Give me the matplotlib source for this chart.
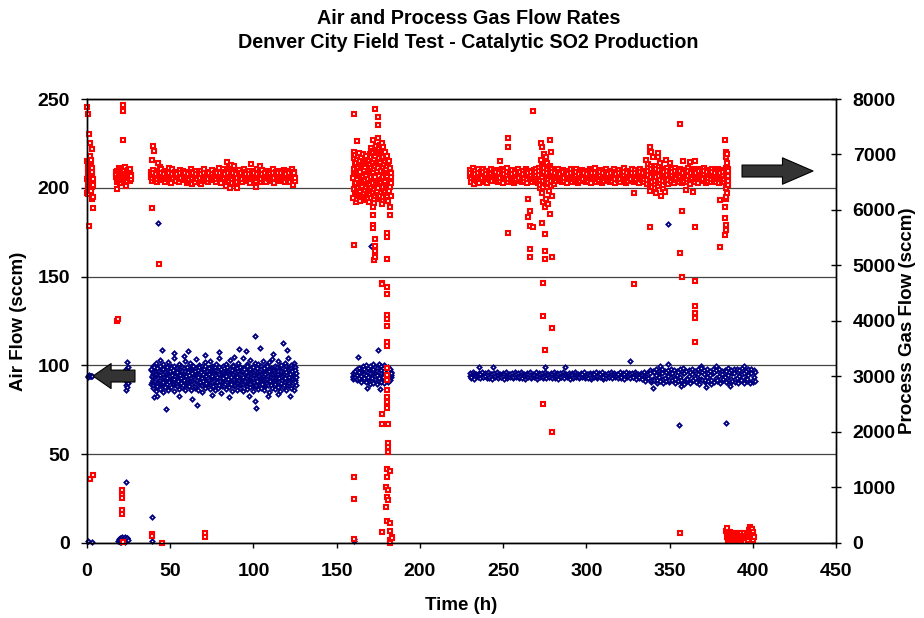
import numpy as np
import matplotlib
matplotlib.use('Agg')
import matplotlib.pyplot as plt

plt.rcParams['font.family'] = ['Liberation Sans', 'DejaVu Sans']
plt.rcParams['font.weight'] = 'bold'

# ---------------- Air flow (sccm), left axis ----------------
# (time h, flow) pairs for the small groups
air_start = [(0.3, 94.0), (0.8, 93.5), (1.2, 94.6), (1.7, 93.8), (2.1, 94.3),
             (2.6, 93.9), (3.2, 94.1)]
air_col = [(22.6, 93), (23.0, 96), (23.3, 91), (23.7, 89), (24.0, 97), (24.3, 94),
           (24.7, 99), (25.0, 92), (23.2, 86), (24.5, 95), (23.8, 102), (24.9, 90),
           (23.5, 98), (24.2, 88), (25.3, 96), (22.9, 94)]
air_low = [(0.5, 1.0), (2.8, 0.4), (18.5, 1.2), (19.2, 2.0), (20.0, 1.5), (20.7, 2.6),
           (21.3, 1.8), (22.0, 3.0), (22.6, 2.2), (23.3, 1.4), (24.0, 2.8), (24.6, 1.6),
           (19.8, 0.6), (21.8, 0.9), (23.0, 3.3), (23.4, 34.5), (39.0, 14.6), (39.0, 1.0),
           (160.5, 2.2), (160.2, 1.2), (19.0, 1.0), (19.6, 2.8), (20.3, 0.8), (21.0, 3.2),
           (21.6, 1.2), (22.3, 2.5), (23.0, 0.8), (23.7, 2.2), (24.3, 3.0), (20.4, 2.0),
           (22.8, 1.8), (21.5, 2.4)]
air_stray = [(42.5, 180.3), (170.5, 167.0), (349.3, 179.8), (355.8, 66.4), (384.0, 67.7)]

# first run, 38-125 h (two interleaved logging passes)
air_t_c = [38.5, 39.4, 40.3, 41.2, 42.2, 43.1, 44.0, 45.0, 45.9, 46.8,
           47.8, 48.7, 49.6, 50.6, 51.5, 52.4, 53.4, 54.3, 55.2, 56.2,
           57.1, 58.0, 59.0, 59.9, 60.8, 61.8, 62.7, 63.6, 64.6, 65.5,
           66.4, 67.4, 68.3, 69.2, 70.2, 71.1, 72.0, 73.0, 73.9, 74.8,
           75.8, 76.7, 77.6, 78.6, 79.5, 80.4, 81.4, 82.3, 83.2, 84.2,
           85.1, 86.0, 87.0, 87.9, 88.8, 89.8, 90.7, 91.6, 92.6, 93.5,
           94.4, 95.4, 96.3, 97.2, 98.2, 99.1, 100.0, 101.0, 101.9, 102.8,
           103.8, 104.7, 105.6, 106.6, 107.5, 108.4, 109.4, 110.3, 111.2, 112.2,
           113.1, 114.0, 115.0, 115.9, 116.8, 117.8, 118.7, 119.6, 120.6, 121.5,
           122.4, 123.4, 124.3, 125.2]
air_t_c_b = [38.9, 39.9, 40.8, 41.7, 42.7, 43.6, 44.5, 45.5, 46.4, 47.3,
             48.3, 49.2, 50.1, 51.1, 52.0, 52.9, 53.9, 54.8, 55.7, 56.7,
             57.6, 58.5, 59.5, 60.4, 61.3, 62.3, 63.2, 64.1, 65.1, 66.0,
             66.9, 67.9, 68.8, 69.7, 70.7, 71.6, 72.5, 73.5, 74.4, 75.3,
             76.3, 77.2, 78.1, 79.1, 80.0, 80.9, 81.9, 82.8, 83.7, 84.7,
             85.6, 86.5, 87.5, 88.4, 89.3, 90.3, 91.2, 92.1, 93.1, 94.0,
             94.9, 95.9, 96.8, 97.7, 98.7, 99.6, 100.5, 101.5, 102.4, 103.3,
             104.3, 105.2, 106.1, 107.1, 108.0, 108.9, 109.9, 110.8, 111.7, 112.7,
             113.6, 114.5, 115.5, 116.4, 117.3, 118.3, 119.2, 120.1, 121.1, 122.0,
             122.9, 123.9, 124.8, 125.6]
air_v_c1 = [97.5, 99.8, 96.2, 101.4, 98.1, 95.6, 103.2, 97.9, 100.5, 96.8,
            98.9, 102.1, 95.9, 99.4, 97.2, 104.0, 98.6, 96.4, 100.9, 97.7,
            99.1, 95.8, 102.6, 98.3, 96.9, 101.2, 97.4, 99.9, 96.1, 103.5,
            98.0, 100.3, 96.6, 99.6, 97.8, 101.8, 95.7, 98.8, 102.4, 97.1,
            99.3, 96.3, 100.7, 98.4, 103.9, 97.0, 99.7, 96.7, 101.0, 98.2,
            97.6, 102.9, 96.0, 100.1, 98.7, 95.5, 101.6, 99.2, 97.3, 104.4,
            98.5, 96.5, 100.6, 97.5, 103.0, 99.0, 96.2, 101.3, 98.1, 100.8,
            96.9, 99.5, 102.2, 97.8, 100.0, 96.4, 101.7, 98.6, 103.6, 97.2,
            99.8, 96.8, 102.7, 98.9, 100.4, 97.4, 101.1, 99.4, 104.2, 98.3,
            100.2, 97.6, 101.5, 99.0]
air_v_c2 = [93.2, 91.8, 95.4, 92.6, 94.8, 90.9, 96.1, 93.7, 92.1, 95.0,
            94.3, 91.5, 96.6, 93.0, 92.4, 95.7, 90.6, 94.1, 93.5, 96.3,
            91.9, 94.7, 92.8, 95.9, 93.3, 91.2, 96.8, 92.3, 94.5, 93.9,
            95.2, 92.0, 94.0, 91.4, 96.4, 93.6, 92.7, 95.5, 91.0, 94.4,
            93.1, 96.0, 92.5, 94.9, 91.7, 95.3, 93.8, 90.8, 94.6, 92.2,
            95.8, 93.4, 91.6, 96.5, 92.9, 94.2, 91.1, 95.1, 93.0, 96.7,
            92.4, 94.8, 91.3, 95.6, 93.2, 92.0, 96.2, 94.3, 91.8, 95.0,
            93.7, 91.5, 96.9, 92.6, 94.0, 95.7, 90.7, 93.5, 94.9, 92.1,
            95.4, 93.1, 91.9, 96.3, 94.6, 92.8, 95.2, 91.2, 93.9, 96.0,
            94.2, 92.5, 95.8, 93.4]
air_v_c3 = [89.4, 87.1, 90.5, 85.8, 88.6, 91.2, 86.7, 89.9, 84.9, 88.1,
            90.8, 86.2, 89.0, 87.6, 91.6, 85.4, 88.9, 90.1, 86.9, 89.5,
            87.8, 91.0, 85.9, 89.2, 88.3, 90.6, 86.4, 91.4, 87.3, 89.7,
            86.0, 90.3, 88.7, 85.1, 89.8, 87.0, 91.8, 88.0, 86.6, 90.0,
            88.5, 86.3, 90.9, 87.4, 89.1, 84.6, 91.1, 88.2, 86.8, 90.4,
            87.7, 89.6, 85.6, 91.5, 88.8, 86.1, 90.2, 87.2, 89.3, 85.3,
            90.7, 88.4, 86.5, 89.7, 87.9, 91.3, 85.7, 88.6, 90.5, 86.9,
            89.0, 87.5, 91.7, 86.3, 88.9, 90.1, 85.2, 89.4, 87.1, 91.0,
            86.7, 90.6, 88.1, 85.5, 89.9, 87.6, 91.9, 86.0, 88.7, 90.3,
            87.3, 89.2, 86.4, 90.8]
air_v_c4 = [93.8, 94.9, 92.6, 95.3, 93.1, 94.4, 92.9, 95.0, 93.6, 94.1,
            92.7, 95.4, 93.9, 94.6, 92.4, 94.0, 95.2, 93.3, 94.8, 92.8,
            95.1, 93.5, 94.3, 92.5, 94.7, 93.0, 95.5, 93.7, 92.6, 94.5,
            93.2, 94.9, 92.9, 95.0, 93.4, 94.2, 92.7, 95.3, 93.8, 94.0,
            92.5, 94.6, 93.6, 95.2, 92.8, 94.4, 93.1, 95.4, 93.9, 92.6,
            94.8, 93.3, 95.1, 92.4, 94.1, 93.7, 95.0, 92.9, 94.5, 93.2,
            95.3, 92.7, 94.3, 93.5, 95.5, 92.8, 94.7, 93.0, 95.2, 94.0,
            92.6, 94.9, 93.8, 95.1, 92.5, 94.2, 93.4, 95.4, 92.9, 94.6,
            93.1, 95.0, 92.7, 94.4, 93.6, 95.3, 92.8, 94.8, 93.3, 95.2,
            92.4, 94.1, 93.9, 95.5]
air_v_c5 = [97.9, 96.4, 99.2, 97.1, 98.6, 96.8, 99.7, 97.4, 98.1, 96.2,
            99.0, 97.6, 96.9, 98.8, 97.2, 99.5, 96.5, 98.3, 97.8, 99.9,
            96.7, 98.5, 97.0, 99.3, 96.3, 98.0, 97.5, 99.6, 96.6, 98.7,
            97.3, 99.1, 96.1, 98.2, 97.7, 99.8, 96.8, 98.4, 97.1, 99.4,
            96.4, 98.9, 97.6, 96.9, 99.2, 97.9, 96.2, 98.6, 97.4, 99.0,
            96.6, 98.1, 97.2, 99.7, 96.3, 98.8, 97.0, 99.3, 96.7, 98.3,
            97.8, 96.5, 99.5, 97.3, 98.0, 96.9, 99.1, 97.5, 98.7, 96.1,
            99.6, 97.7, 96.4, 98.5, 97.0, 99.9, 96.8, 98.2, 97.4, 99.2,
            96.3, 98.9, 97.1, 99.4, 96.6, 98.4, 97.9, 96.2, 99.0, 97.6,
            98.6, 96.7, 99.8, 97.2]
air_v_c6 = [90.6, 89.1, 91.4, 88.7, 90.0, 91.8, 89.5, 90.9, 88.3, 91.1,
            89.8, 90.4, 88.9, 91.6, 89.3, 90.7, 88.5, 91.2, 89.9, 90.2,
            88.8, 91.5, 89.4, 90.8, 88.4, 91.0, 89.7, 90.3, 88.6, 91.7,
            89.2, 90.5, 88.9, 91.3, 89.6, 90.1, 88.2, 91.9, 89.0, 90.6,
            91.4, 88.7, 90.9, 89.5, 91.1, 88.3, 90.4, 89.8, 91.6, 88.9,
            90.7, 89.3, 91.2, 88.5, 90.2, 89.9, 91.5, 88.8, 90.8, 89.4,
            91.0, 88.4, 90.3, 89.7, 91.7, 88.6, 90.5, 89.2, 91.3, 88.9,
            90.1, 89.6, 91.9, 88.2, 90.6, 89.0, 91.4, 88.7, 90.9, 89.5,
            91.1, 88.3, 90.4, 89.8, 91.6, 88.9, 90.7, 89.3, 91.2, 88.5,
            90.2, 89.9, 91.5, 88.8]
air_out_c = [(40.0, 82.0), (47.5, 75.5), (63.0, 81.0), (66.0, 77.7), (101.0, 116.5),
             (101.0, 80.0), (101.3, 76.0), (45.0, 108.5), (52.0, 107.0), (58.5, 105.5),
             (71.0, 106.0), (79.0, 107.5), (88.0, 105.0), (95.5, 108.0), (104.0, 110.0),
             (112.0, 106.5), (117.5, 112.5), (120.0, 108.5), (42.0, 83.0), (55.0, 82.5),
             (75.0, 83.5), (85.0, 82.0), (97.5, 83.0), (108.5, 82.5), (115.0, 84.0),
             (122.0, 83.0), (60.5, 108.0), (91.0, 109.0)]

# second run, 160-183 h
air_t_d = [160.0, 161.1, 162.2, 163.3, 164.4, 165.5, 166.6, 167.7, 168.8, 169.9,
           171.0, 172.1, 173.2, 174.3, 175.4, 176.5, 177.6, 178.7, 179.8, 180.9,
           182.0, 182.8]
air_v_d1 = [95.5, 96.8, 97.9, 98.6, 97.2, 99.4, 98.0, 100.2, 98.8, 99.6,
            97.6, 100.5, 99.1, 98.3, 100.8, 99.7, 98.5, 100.0, 97.9, 99.3,
            98.2, 96.4]
air_v_d2 = [92.4, 93.6, 91.8, 93.1, 90.9, 92.7, 91.5, 90.4, 92.2, 89.8,
            91.0, 90.1, 92.5, 89.6, 91.4, 90.7, 92.9, 89.9, 91.7, 90.5,
            92.0, 93.3]
air_v_d3 = [94.0, 95.1, 94.6, 95.8, 94.3, 96.0, 95.2, 94.8, 96.3, 95.5,
            94.1, 96.6, 95.0, 94.5, 96.1, 95.7, 94.2, 96.4, 95.3, 94.9,
            95.9, 94.7]
air_v_d4 = [93.2, 97.0, 92.6, 96.5, 93.8, 97.6, 92.9, 96.9, 93.5, 97.3,
            92.7, 97.8, 93.9, 96.7, 92.8, 97.4, 93.4, 97.1, 92.5, 96.8,
            93.7, 95.6]
air_out_d = [(163.0, 105.0), (174.7, 108.7), (176.0, 86.5), (168.0, 87.5)]

# third run, 230-401 h
air_t_e = [230.0, 231.8, 233.7, 235.4, 237.2, 239.1, 240.8, 242.6, 244.5, 246.2,
           248.0, 249.9, 251.6, 253.4, 255.3, 257.0, 258.8, 260.7, 262.4, 264.2,
           266.1, 267.8, 269.6, 271.5, 273.2, 275.0, 276.9, 278.6, 280.4, 282.3,
           284.0, 285.8, 287.7, 289.4, 291.2, 293.1, 294.8, 296.6, 298.5, 300.2,
           302.0, 303.9, 305.6, 307.4, 309.3, 311.0, 312.8, 314.7, 316.4, 318.2,
           320.1, 321.8, 323.6, 325.5, 327.2, 329.0, 330.9, 332.6, 334.4, 336.3,
           338.0, 339.8, 341.7, 343.4, 345.2, 347.1, 348.8, 350.6, 352.5, 354.2,
           356.0, 357.9, 359.6, 361.4, 363.3, 365.0, 366.8, 368.7, 370.4, 372.2,
           374.1, 375.8, 377.6, 379.5, 381.2, 383.0, 384.9, 386.6, 388.4, 390.3,
           392.0, 393.8, 395.7, 397.4, 399.2, 400.6]
air_t_e_b = [230.9, 232.7, 234.6, 236.3, 238.1, 240.0, 241.7, 243.5, 245.4, 247.1,
             248.9, 250.8, 252.5, 254.3, 256.2, 257.9, 259.7, 261.6, 263.3, 265.1,
             267.0, 268.7, 270.5, 272.4, 274.1, 275.9, 277.8, 279.5, 281.3, 283.2,
             284.9, 286.7, 288.6, 290.3, 292.1, 294.0, 295.7, 297.5, 299.4, 301.1,
             302.9, 304.8, 306.5, 308.3, 310.2, 311.9, 313.7, 315.6, 317.3, 319.1,
             321.0, 322.7, 324.5, 326.4, 328.1, 329.9, 331.8, 333.5, 335.3, 337.2,
             338.9, 340.7, 342.6, 344.3, 346.1, 348.0, 349.7, 351.5, 353.4, 355.1,
             356.9, 358.8, 360.5, 362.3, 364.2, 365.9, 367.7, 369.6, 371.3, 373.1,
             375.0, 376.7, 378.5, 380.4, 382.1, 383.9, 385.8, 387.5, 389.3, 391.2,
             392.9, 394.7, 396.6, 398.3, 400.1, 401.2]
air_v_e1 = [95.6, 96.1, 95.3, 95.9, 96.4, 95.5, 96.0, 95.2, 95.8, 96.3,
            95.4, 95.9, 96.2, 95.1, 95.7, 96.0, 95.5, 96.3, 95.2, 95.8,
            96.1, 95.4, 96.5, 95.6, 95.9, 96.2, 95.3, 95.7, 96.0, 95.5,
            95.8, 96.3, 95.2, 95.9, 95.6, 96.1, 95.4, 95.7, 96.2, 95.3,
            95.9, 95.5, 96.0, 95.7, 96.4, 95.2, 95.8, 96.1, 95.6, 95.3,
            96.0, 95.7, 96.3, 95.5, 95.9, 96.2, 95.4, 95.8, 96.1, 95.6,
            97.4, 96.8, 97.9, 97.1, 98.2, 96.9, 97.6, 98.0, 97.3, 96.7,
            97.8, 98.3, 97.0, 97.5, 98.1, 96.8, 97.7, 98.4, 97.2, 97.9,
            96.9, 98.0, 97.4, 98.2, 97.1, 97.6, 98.5, 97.3, 97.8, 98.1,
            97.5, 98.3, 97.0, 97.9, 98.2, 97.6]
air_v_e2 = [93.0, 92.6, 93.3, 92.8, 93.5, 92.7, 93.1, 92.5, 93.4, 92.9,
            93.2, 92.6, 93.0, 93.6, 92.8, 93.3, 92.7, 93.1, 92.5, 93.4,
            92.9, 93.2, 92.6, 93.5, 93.0, 92.8, 93.3, 92.7, 93.1, 92.4,
            93.4, 92.9, 93.2, 92.6, 93.0, 93.5, 92.8, 93.3, 92.7, 93.1,
            92.5, 93.4, 92.9, 93.2, 92.6, 93.0, 93.6, 92.8, 93.3, 92.7,
            93.1, 92.5, 93.4, 92.9, 93.2, 92.6, 93.0, 92.4, 91.0, 92.8,
            90.8, 91.6, 90.2, 91.3, 89.9, 91.1, 90.5, 91.8, 90.0, 91.4,
            90.6, 89.7, 91.2, 90.3, 91.7, 90.9, 89.8, 91.5, 90.4, 91.0,
            89.6, 90.7, 91.4, 90.1, 91.9, 90.5, 89.5, 91.2, 90.8, 90.2,
            91.6, 90.0, 91.1, 89.9, 90.6, 91.3]
air_v_e3 = [94.1, 94.4, 93.9, 94.6, 94.2, 93.8, 94.5, 94.0, 94.3, 94.7,
            94.0, 94.3, 94.6, 93.9, 94.2, 94.5, 94.1, 93.8, 94.4, 94.2,
            94.6, 94.0, 94.3, 94.5, 93.9, 94.2, 94.7, 94.1, 94.4, 93.8,
            94.3, 94.0, 94.6, 94.2, 94.5, 93.9, 94.1, 94.4, 94.0, 94.3,
            94.6, 94.1, 94.2, 94.5, 93.9, 94.4, 94.0, 94.3, 94.7, 94.2,
            94.1, 94.5, 93.9, 94.3, 94.0, 94.6, 94.2, 94.4, 94.1, 94.3,
            95.6, 92.4, 94.8, 93.2, 95.9, 92.7, 94.3, 95.2, 92.9, 94.6,
            93.4, 95.7, 92.6, 94.1, 95.4, 93.0, 94.9, 92.5, 95.1, 93.6,
            94.4, 95.8, 92.8, 94.0, 95.3, 93.3, 94.7, 92.6, 95.5, 93.1,
            94.2, 95.0, 92.9, 94.5, 95.6, 93.5]
air_v_e4 = [93.6, 94.9, 93.8, 95.1, 93.5, 95.0, 93.7, 95.2, 93.9, 94.8,
            93.6, 95.1, 93.8, 94.9, 93.5, 95.3, 93.7, 95.0, 93.9, 95.2,
            93.6, 94.8, 93.8, 95.1, 93.5, 94.9, 93.7, 95.3, 93.9, 95.0,
            93.6, 95.2, 93.8, 94.8, 93.5, 95.1, 93.7, 94.9, 93.9, 95.3,
            93.6, 95.0, 93.8, 95.2, 93.5, 94.8, 93.7, 95.1, 93.9, 94.9,
            93.6, 95.3, 93.8, 95.0, 93.5, 95.2, 93.7, 94.8, 93.9, 95.1,
            92.0, 96.2, 91.6, 95.8, 92.3, 96.5, 91.8, 95.5, 92.1, 96.0,
            91.5, 95.7, 92.4, 96.3, 91.9, 95.6, 92.2, 96.4, 91.7, 95.9,
            92.0, 96.1, 91.6, 95.5, 92.3, 96.6, 91.8, 95.8, 92.1, 96.2,
            91.5, 95.7, 92.4, 96.0, 91.9, 96.3]
air_out_e = [(235.4, 99.0), (243.8, 99.0), (275.0, 99.3), (287.0, 99.0), (326.0, 102.5),
             (344.0, 99.5), (349.0, 100.5), (368.6, 99.5), (378.0, 99.8), (395.0, 99.6),
             (340.0, 87.0), (357.0, 88.5), (372.0, 87.8), (386.0, 88.2)]

# ---------------- Process gas flow (sccm), right axis ----------------
gas_t_a = [0.2, 0.3, 1.2, 1.8, 2.8, 1.8, 3.4, 1.2,
           0.1, 0.5, 0.9, 1.4, 2.0, 2.5, 3.0, 3.5,
           0.3, 0.7, 1.1, 1.6, 2.2, 2.7, 3.2,
           0.2, 0.6, 1.0, 1.5, 2.1, 2.6, 3.1, 3.6,
           0.4, 0.8, 1.3, 1.9, 2.4, 2.9]
gas_v_a = [7850, 7730, 7365, 7200, 7105, 6978, 6030, 5717,
           6880, 6750, 6620, 6500, 6820, 6710, 6560, 6450,
           6380, 6600, 6800, 6690, 6530, 6410, 6760,
           6300, 6480, 6860, 6580, 6350, 6650, 6470, 6240,
           6720, 6550, 6420, 6780, 6610, 6190]
gas_start2 = [(0.5, 6640), (1.0, 6520), (1.5, 6760), (2.0, 6430), (2.5, 6860), (3.0, 6680),
              (0.2, 6560), (0.8, 6290), (1.3, 6700), (1.7, 6580), (2.3, 6480), (2.6, 6900),
              (0.6, 6820), (1.9, 6360), (3.3, 6550), (0.9, 6460), (2.9, 6640)]
gas_t_b = [21.8, 21.8, 21.8, 18.2, 23.4, 18.2, 18.4,
           17.2, 17.9, 18.6, 19.3, 20.0, 20.7, 21.4, 22.1, 22.8, 23.5, 24.2, 24.9, 25.6, 26.3,
           17.5, 18.3, 19.0, 19.7, 20.4, 21.1, 21.8, 22.5, 23.2, 23.9, 24.6, 25.3, 26.0, 26.7]
gas_v_b = [7892, 7790, 7261, 6373, 6432, 3995, 4030,
           6600, 6700, 6520, 6650, 6740, 6560, 6690, 6620, 6780, 6540, 6660, 6710, 6590, 6630,
           6680, 6550, 6620, 6480, 6720, 6600, 6760, 6510, 6640, 6700, 6570, 6660, 6520, 6610]
gas_b2 = [(17.6, 6640), (18.0, 6580), (18.8, 6700), (19.5, 6560), (20.2, 6620), (20.9, 6680),
          (21.6, 6540), (22.3, 6700), (23.0, 6580), (23.7, 6640), (24.4, 6720), (25.1, 6620),
          (25.8, 6680), (26.5, 6560), (19.0, 6760), (22.0, 6500), (24.0, 6520), (26.0, 6740),
          (17.8, 6500), (20.5, 6480)]
gas_misc = [(39.9, 7153), (40.0, 7069), (38.9, 6901), (42.5, 6852), (38.9, 6030),
            (43.5, 5022)]
gas_low = [(1.8, 1150), (3.8, 1220), (20.8, 955), (20.8, 865), (20.9, 805), (20.8, 595),
           (20.9, 522), (21.5, 23), (21.8, 10), (38.9, 162), (38.9, 126), (44.9, 5),
           (70.9, 174), (70.9, 102), (160.5, 1184), (160.5, 787), (160.5, 66), (356.4, 174)]

# first run, 38-125 h (two interleaved logging passes)
gas_t_c = [38.2, 39.8, 41.4, 43.0, 44.6, 46.2, 47.8, 49.4, 51.0, 52.6,
           54.2, 55.8, 57.4, 59.0, 60.6, 62.2, 63.8, 65.4, 67.0, 68.6,
           70.2, 71.8, 73.4, 75.0, 76.6, 78.2, 79.8, 81.4, 83.0, 84.6,
           86.2, 87.8, 89.4, 91.0, 92.6, 94.2, 95.8, 97.4, 99.0, 100.6,
           102.2, 103.8, 105.4, 107.0, 108.6, 110.2, 111.8, 113.4, 115.0, 116.6,
           118.2, 119.8, 121.4, 123.0, 124.6]
gas_t_c_b = [39.0, 40.6, 42.2, 43.8, 45.4, 47.0, 48.6, 50.2, 51.8, 53.4,
             55.0, 56.6, 58.2, 59.8, 61.4, 63.0, 64.6, 66.2, 67.8, 69.4,
             71.0, 72.6, 74.2, 75.8, 77.4, 79.0, 80.6, 82.2, 83.8, 85.4,
             87.0, 88.6, 90.2, 91.8, 93.4, 95.0, 96.6, 98.2, 99.8, 101.4,
             103.0, 104.6, 106.2, 107.8, 109.4, 111.0, 112.6, 114.2, 115.8, 117.4,
             119.0, 120.6, 122.2, 123.8, 125.2]
gas_v_c1 = [6690, 6720, 6660, 6700, 6740, 6680, 6710, 6650, 6730, 6690,
            6670, 6720, 6700, 6660, 6690, 6740, 6680, 6710, 6650, 6700,
            6730, 6670, 6690, 6720, 6660, 6700, 6680, 6740, 6690, 6710,
            6760, 6700, 6680, 6720, 6660, 6740, 6690, 6710, 6670, 6700,
            6730, 6680, 6720, 6660, 6700, 6690, 6740, 6680, 6710, 6670,
            6720, 6690, 6700, 6730, 6680]
gas_v_c2 = [6520, 6560, 6500, 6540, 6580, 6510, 6550, 6490, 6570, 6530,
            6500, 6560, 6540, 6480, 6520, 6570, 6510, 6550, 6490, 6530,
            6560, 6500, 6540, 6580, 6510, 6550, 6490, 6570, 6530, 6520,
            6480, 6460, 6500, 6540, 6510, 6560, 6530, 6490, 6550, 6520,
            6570, 6500, 6540, 6510, 6560, 6530, 6490, 6550, 6520, 6570,
            6510, 6540, 6500, 6560, 6530]
gas_v_c3 = [6600, 6630, 6590, 6620, 6610, 6640, 6600, 6620, 6590, 6630,
            6610, 6600, 6640, 6620, 6590, 6610, 6630, 6600, 6620, 6640,
            6590, 6610, 6630, 6600, 6620, 6610, 6640, 6590, 6630, 6600,
            6620, 6610, 6590, 6640, 6600, 6630, 6610, 6620, 6590, 6600,
            6640, 6610, 6630, 6600, 6620, 6590, 6610, 6640, 6600, 6630,
            6620, 6610, 6590, 6600, 6630]
gas_v_c4 = [6570, 6585, 6560, 6575, 6590, 6565, 6580, 6555, 6575, 6590,
            6560, 6580, 6570, 6585, 6555, 6575, 6590, 6565, 6580, 6570,
            6585, 6560, 6575, 6590, 6565, 6580, 6555, 6570, 6585, 6575,
            6560, 6590, 6570, 6580, 6565, 6585, 6555, 6575, 6590, 6570,
            6580, 6560, 6585, 6575, 6565, 6590, 6570, 6580, 6555, 6585,
            6575, 6565, 6590, 6570, 6580]
gas_v_c5 = [6650, 6665, 6640, 6660, 6675, 6645, 6655, 6670, 6640, 6660,
            6650, 6675, 6645, 6665, 6655, 6640, 6670, 6650, 6660, 6645,
            6675, 6655, 6665, 6640, 6650, 6670, 6660, 6645, 6655, 6675,
            6640, 6665, 6650, 6660, 6670, 6645, 6655, 6640, 6675, 6665,
            6650, 6660, 6645, 6670, 6655, 6640, 6665, 6650, 6675, 6660,
            6645, 6655, 6670, 6650, 6665]
gas_out_c = [(84.0, 6870), (86.6, 6816), (90.0, 6390), (86.0, 6390), (83.6, 6432),
             (101.4, 6420), (124.0, 6450), (98.4, 6829), (68.3, 6468), (62.9, 6468),
             (43.9, 6780), (49.0, 6750), (85.0, 6780), (88.0, 6800), (104.0, 6790),
             (79.0, 6760)]

# second run, 160-183 h
gas_t_d = [160.0, 160.4, 159.9, 160.3, 160.1, 160.5,
           161.4, 161.7, 161.3, 161.6, 161.5,
           162.8, 162.6, 163.0, 162.7, 162.9,
           164.1, 164.3, 163.9, 164.2, 164.0,
           165.4, 165.2, 165.6, 165.3, 165.5,
           166.7, 166.9, 166.5, 166.8, 166.6,
           168.0, 168.2, 167.8, 168.1, 167.9,
           169.3, 169.1, 169.5, 169.2, 169.4,
           170.6, 170.8, 170.4, 170.7, 170.5, 170.9,
           171.9, 172.1, 171.7, 172.0, 171.8, 172.2,
           173.2, 173.4, 173.0, 173.3, 173.1, 173.5,
           174.5, 174.7, 174.3, 174.6, 174.4, 174.8,
           175.8, 176.0, 175.6, 175.9, 175.7, 176.1,
           177.1, 177.3, 176.9, 177.2, 177.0, 177.4,
           178.4, 178.6, 178.2, 178.5, 178.3,
           179.7, 179.9, 179.5, 179.8, 179.6,
           181.0, 181.2, 180.8, 181.1, 180.9,
           182.3, 182.5, 182.1, 182.4]
gas_v_d = [6210, 6370, 6580, 6730, 6940, 7040,
           6280, 6490, 6640, 6850, 6140,
           6250, 6410, 6620, 6770, 6980,
           6320, 6530, 6680, 6880, 6170,
           6270, 6430, 6610, 6810, 7010,
           6360, 6520, 6720, 6870, 6210,
           6290, 6470, 6630, 6830, 6970,
           6380, 6560, 6740, 6900, 6150,
           6220, 6400, 6600, 6760, 6960, 7110,
           6330, 6490, 6690, 6870, 7030, 6130,
           6260, 6440, 6600, 6800, 6980, 7160,
           6350, 6510, 6710, 6890, 7070, 6190,
           6260, 6460, 6620, 6820, 7000, 7180,
           6370, 6550, 6710, 6910, 7090, 6110,
           6300, 6480, 6660, 6820, 7020,
           6390, 6570, 6730, 6930, 6210,
           6310, 6470, 6670, 6850, 6160,
           6410, 6590, 6750, 6260]
gas_d2 = [(160.7, 6300), (160.8, 6480), (160.6, 6660), (160.9, 6840), (160.7, 6990),
          (162.1, 6200), (162.0, 6380), (162.2, 6560), (161.9, 6740), (162.1, 6920),
          (163.5, 6290), (163.4, 6470), (163.6, 6650), (163.3, 6830), (163.5, 7020),
          (164.8, 6230), (164.7, 6410), (164.9, 6590), (164.6, 6770), (164.8, 6950),
          (166.1, 6310), (166.0, 6490), (166.2, 6670), (165.9, 6850), (166.1, 6180),
          (167.4, 6240), (167.3, 6420), (167.5, 6600), (167.2, 6780), (167.4, 6940),
          (168.7, 6330), (168.6, 6510), (168.8, 6690), (168.5, 6870), (168.7, 6200),
          (170.0, 6270), (169.9, 6450), (170.1, 6630), (169.8, 6810), (170.0, 7000),
          (171.3, 6340), (171.2, 6520), (171.4, 6700), (171.1, 6880), (171.3, 7060),
          (172.6, 6200), (172.5, 6380), (172.7, 6560), (172.4, 6740), (172.6, 6920),
          (172.8, 7120), (173.9, 6300), (173.8, 6480), (174.0, 6660), (173.7, 6840),
          (173.9, 7020), (175.2, 6210), (175.1, 6390), (175.3, 6570), (175.0, 6750),
          (175.2, 6930), (175.4, 7110), (176.5, 6320), (176.4, 6500), (176.6, 6680),
          (176.3, 6860), (176.5, 7040), (177.8, 6230), (177.7, 6410), (177.9, 6590),
          (177.6, 6770), (177.8, 6950), (178.0, 7130), (179.1, 6340), (179.0, 6520),
          (179.2, 6700), (178.9, 6880), (179.1, 7050), (180.4, 6250), (180.3, 6430),
          (180.5, 6610), (180.2, 6790), (180.4, 6970), (181.7, 6350), (181.6, 6530),
          (181.8, 6710), (181.5, 6890), (182.8, 6480), (182.9, 6660)]
gas_out_d = [(160.6, 7730), (162.4, 7250), (173.0, 7815), (175.0, 7670), (175.0, 7532),
             (175.0, 7292), (172.0, 7270), (177.0, 7202), (160.6, 5369), (172.0, 6059),
             (172.0, 5910), (172.0, 5730), (172.0, 5670), (173.0, 5472), (173.0, 5351),
             (173.0, 5261), (173.0, 5159), (172.5, 5099), (180.0, 5580), (180.0, 5519),
             (180.0, 5112), (182.0, 6059), (182.0, 5910), (177.0, 4679), (180.0, 4607)]
gas_tail = [(177.1, 4667), (180.1, 4487), (180.1, 4108), (180.1, 4030), (180.1, 3910),
            (180.1, 3627), (180.1, 3555), (180.1, 3148), (180.1, 3027), (180.1, 2937),
            (180.1, 2757), (180.1, 2636), (180.1, 2546), (180.1, 2426), (177.1, 2324),
            (177.1, 2139), (181.1, 2139), (181.1, 1807), (181.1, 1735), (181.1, 1645),
            (180.1, 1328), (182.1, 1303), (180.1, 1184), (179.7, 1015), (181.1, 955),
            (180.1, 835), (181.1, 775), (179.7, 643), (180.1, 402), (182.1, 355),
            (177.1, 204), (182.1, 222), (183.1, 114), (182.1, 60), (183.1, 90), (182.1, 5)]

# third run, 230-385 h (two interleaved logging passes)
gas_t_e = [230.0, 231.6, 233.2, 234.8, 236.4, 238.0, 239.6, 241.2, 242.8, 244.4,
           246.0, 247.6, 249.2, 250.8, 252.4, 254.0, 255.6, 257.2, 258.8, 260.4,
           262.0, 263.6, 265.2, 266.8, 268.4, 270.0, 271.6, 273.2, 274.8, 276.4,
           278.0, 279.6, 281.2, 282.8, 284.4, 286.0, 287.6, 289.2, 290.8, 292.4,
           294.0, 295.6, 297.2, 298.8, 300.4, 302.0, 303.6, 305.2, 306.8, 308.4,
           310.0, 311.6, 313.2, 314.8, 316.4, 318.0, 319.6, 321.2, 322.8, 324.4,
           326.0, 327.6, 329.2, 330.8, 332.4, 334.0, 335.6, 337.2, 338.8, 340.4,
           342.0, 343.6, 345.2, 346.8, 348.4, 350.0, 351.6, 353.2, 354.8, 356.4,
           358.0, 359.6, 361.2, 362.8, 364.4, 366.0, 367.6, 369.2, 370.8, 372.4,
           374.0, 375.6, 377.2, 378.8, 380.4, 382.0, 383.6, 384.8]
gas_t_e_b = [230.8, 232.4, 234.0, 235.6, 237.2, 238.8, 240.4, 242.0, 243.6, 245.2,
             246.8, 248.4, 250.0, 251.6, 253.2, 254.8, 256.4, 258.0, 259.6, 261.2,
             262.8, 264.4, 266.0, 267.6, 269.2, 270.8, 272.4, 274.0, 275.6, 277.2,
             278.8, 280.4, 282.0, 283.6, 285.2, 286.8, 288.4, 290.0, 291.6, 293.2,
             294.8, 296.4, 298.0, 299.6, 301.2, 302.8, 304.4, 306.0, 307.6, 309.2,
             310.8, 312.4, 314.0, 315.6, 317.2, 318.8, 320.4, 322.0, 323.6, 325.2,
             326.8, 328.4, 330.0, 331.6, 333.2, 334.8, 336.4, 338.0, 339.6, 341.2,
             342.8, 344.4, 346.0, 347.6, 349.2, 350.8, 352.4, 354.0, 355.6, 357.2,
             358.8, 360.4, 362.0, 363.6, 365.2, 366.8, 368.4, 370.0, 371.6, 373.2,
             374.8, 376.4, 378.0, 379.6, 381.2, 382.8, 384.2, 385.2]
gas_v_e1 = [6720, 6750, 6700, 6740, 6690, 6730, 6710, 6680, 6740, 6700,
            6720, 6690, 6730, 6710, 6750, 6680, 6720, 6700, 6740, 6690,
            6710, 6730, 6700, 6680, 6720, 6740, 6760, 6790, 6750, 6720,
            6780, 6730, 6700, 6740, 6690, 6720, 6710, 6680, 6730, 6700,
            6740, 6690, 6720, 6710, 6680, 6730, 6700, 6750, 6690, 6720,
            6710, 6740, 6680, 6700, 6730, 6690, 6720, 6710, 6750, 6700,
            6680, 6730, 6720, 6690, 6740, 6710, 6700, 6760, 6790, 6750,
            6800, 6770, 6740, 6720, 6760, 6700, 6730, 6750, 6710, 6740,
            6690, 6720, 6760, 6700, 6730, 6710, 6740, 6690, 6750, 6720,
            6700, 6730, 6710, 6740, 6690, 6720, 6760, 6740]
gas_v_e2 = [6500, 6470, 6530, 6490, 6550, 6510, 6480, 6540, 6520, 6560,
            6500, 6530, 6490, 6550, 6510, 6540, 6480, 6520, 6560, 6500,
            6530, 6490, 6550, 6510, 6540, 6480, 6450, 6420, 6460, 6490,
            6430, 6470, 6520, 6550, 6500, 6530, 6490, 6560, 6510, 6540,
            6480, 6520, 6550, 6500, 6530, 6490, 6560, 6510, 6540, 6480,
            6520, 6550, 6500, 6530, 6490, 6540, 6510, 6560, 6480, 6520,
            6550, 6500, 6530, 6490, 6540, 6510, 6470, 6440, 6410, 6460,
            6430, 6480, 6450, 6500, 6470, 6520, 6490, 6540, 6510, 6480,
            6530, 6500, 6470, 6540, 6510, 6490, 6550, 6520, 6480, 6530,
            6500, 6540, 6510, 6490, 6530, 6500, 6470, 6450]
gas_v_e3 = [6610, 6630, 6600, 6620, 6590, 6640, 6610, 6600, 6630, 6620,
            6590, 6610, 6640, 6600, 6620, 6630, 6610, 6590, 6620, 6640,
            6600, 6630, 6610, 6620, 6590, 6610, 6630, 6600, 6640, 6620,
            6610, 6590, 6630, 6600, 6620, 6610, 6640, 6600, 6630, 6590,
            6620, 6610, 6600, 6640, 6630, 6610, 6590, 6620, 6600, 6630,
            6640, 6610, 6620, 6600, 6590, 6630, 6610, 6640, 6620, 6600,
            6610, 6630, 6590, 6620, 6600, 6640, 6610, 6630, 6600, 6620,
            6590, 6610, 6640, 6600, 6630, 6620, 6610, 6590, 6630, 6600,
            6640, 6620, 6610, 6600, 6630, 6590, 6620, 6610, 6640, 6600,
            6630, 6610, 6620, 6600, 6590, 6630, 6610, 6620]
gas_v_e4 = [6570, 6555, 6585, 6565, 6575, 6550, 6580, 6560, 6590, 6570,
            6555, 6575, 6565, 6585, 6560, 6570, 6580, 6550, 6575, 6565,
            6585, 6560, 6570, 6555, 6580, 6565, 6540, 6520, 6550, 6565,
            6530, 6560, 6575, 6585, 6555, 6570, 6560, 6580, 6565, 6575,
            6550, 6585, 6560, 6570, 6580, 6555, 6575, 6565, 6590, 6560,
            6570, 6580, 6555, 6575, 6565, 6585, 6560, 6570, 6550, 6580,
            6565, 6575, 6560, 6585, 6570, 6555, 6540, 6520, 6500, 6530,
            6510, 6545, 6525, 6560, 6535, 6570, 6550, 6580, 6560, 6545,
            6575, 6555, 6540, 6580, 6560, 6550, 6585, 6565, 6545, 6575,
            6555, 6580, 6560, 6550, 6570, 6560, 6530, 6520]
gas_v_e5 = [6665, 6680, 6650, 6670, 6660, 6685, 6655, 6675, 6645, 6665,
            6680, 6660, 6670, 6650, 6685, 6665, 6655, 6675, 6660, 6680,
            6650, 6670, 6665, 6685, 6655, 6680, 6700, 6720, 6690, 6675,
            6710, 6680, 6660, 6670, 6655, 6685, 6665, 6650, 6675, 6660,
            6680, 6655, 6670, 6665, 6650, 6685, 6660, 6675, 6655, 6680,
            6665, 6670, 6650, 6660, 6685, 6655, 6675, 6665, 6680, 6660,
            6650, 6675, 6670, 6655, 6685, 6665, 6680, 6710, 6730, 6700,
            6740, 6720, 6690, 6680, 6710, 6670, 6690, 6705, 6675, 6695,
            6660, 6685, 6710, 6670, 6690, 6675, 6700, 6665, 6705, 6685,
            6670, 6690, 6675, 6700, 6660, 6685, 6710, 6695]
gas_out_e = [(267.8, 7784), (356.4, 7544), (253.2, 7292), (253.2, 7141), (248.2, 6888),
             (278.2, 7261), (273.2, 7141), (265.2, 6193), (266.2, 5988), (265.2, 5880),
             (266.2, 5712), (267.8, 5700), (273.2, 5760), (278.2, 5928), (275.2, 5562),
             (253.2, 5580), (266.2, 5292), (266.2, 5159), (275.2, 5261), (275.2, 5117),
             (279.3, 5159), (274.2, 4690), (328.9, 6301), (328.9, 4667), (338.3, 5699),
             (338.3, 7141), (342.9, 7021), (338.3, 7050), (357.7, 5988), (365.4, 6888),
             (365.4, 5688), (356.4, 5231), (357.7, 4787), (365.4, 4721), (380.4, 5339),
             (380.4, 6180), (383.4, 7261), (384.0, 7050), (383.4, 6059), (383.4, 5862),
             (384.0, 5730), (384.0, 5640), (383.4, 5550), (384.0, 6229), (384.0, 6390),
             (274.2, 4090), (279.3, 3868), (275.2, 3477), (274.2, 2499), (279.3, 2005),
             (365.4, 4276), (365.4, 4138), (365.4, 4048), (365.4, 3627)]
gas_spread_e = [(272.5, 6900), (273.5, 6300), (274.5, 7000), (275.5, 6200), (276.5, 6850),
                (277.5, 6350), (278.5, 7050), (279.5, 6250), (272.0, 6400), (276.0, 6950),
                (274.0, 6150), (278.0, 6800), (273.0, 7200), (277.0, 6100), (275.0, 6050),
                (336.0, 6900), (338.0, 6350), (340.0, 6950), (342.0, 6300), (344.0, 6850),
                (346.0, 6380), (348.0, 6900), (339.0, 7050), (341.0, 6400), (345.0, 6250),
                (337.0, 6820), (343.0, 6960), (347.0, 6330), (350.0, 6850), (358.0, 6880),
                (362.0, 6870), (364.0, 6330), (360.0, 6360), (383.6, 6950), (384.2, 6850),
                (384.6, 6300), (383.8, 6200), (384.4, 7000)]
# shut-down readings, 383-401 h
gas_end = [(384.0, 220), (384.2, 160), (384.5, 100), (384.8, 60), (385.3, 200),
           (385.6, 130), (386.0, 80), (387.0, 170), (387.5, 110), (388.5, 150),
           (389.5, 90), (390.5, 160), (391.5, 110), (392.5, 150), (393.5, 95),
           (394.5, 160), (395.5, 115), (396.5, 150), (397.0, 95), (397.8, 160),
           (398.4, 294), (398.6, 120), (399.2, 180), (399.5, 70), (400.2, 150),
           (400.6, 100), (388.0, 120), (390.0, 130), (392.0, 125), (394.0, 125),
           (396.0, 130), (386.5, 140), (398.0, 230), (399.8, 260), (385.0, 150),
           (386.2, 190), (387.2, 130), (388.2, 95), (389.0, 180), (389.8, 130),
           (391.0, 85), (391.0, 180), (392.8, 100), (393.0, 185), (394.2, 90),
           (395.0, 180), (396.2, 95), (397.4, 130), (398.2, 110), (399.0, 140),
           (400.0, 200), (384.4, 270), (385.0, 40), (386.8, 60), (389.0, 60),
           (393.0, 60), (397.0, 55), (400.4, 60)]


def split(pairs):
    a = np.array(pairs, dtype=float)
    return a[:, 0], a[:, 1]


def arr(t, v):
    return np.asarray(t, float), np.asarray(v, float)


def in_time_order(*parts):
    # the logger wrote the readings in time order, so draw them that way
    t = np.concatenate([p[0] for p in parts])
    v = np.concatenate([p[1] for p in parts])
    order = np.argsort(t, kind='stable')
    return t[order], v[order]


air_t, air_v = in_time_order(
    split(air_start), split(air_col), split(air_low), split(air_stray),
    split(air_out_c), split(air_out_d), split(air_out_e),
    arr(air_t_c, air_v_c1), arr(air_t_c_b, air_v_c2), arr(air_t_c, air_v_c3),
    arr(air_t_c_b, air_v_c4), arr(air_t_c, air_v_c5), arr(air_t_c_b, air_v_c6),
    arr(air_t_d, air_v_d1), arr(air_t_d, air_v_d2), arr(air_t_d, air_v_d3),
    arr(air_t_d, air_v_d4),
    arr(air_t_e, air_v_e1), arr(air_t_e_b, air_v_e2), arr(air_t_e, air_v_e3),
    arr(air_t_e_b, air_v_e4))

gas_t, gas_v = in_time_order(
    arr(gas_t_a, gas_v_a), arr(gas_t_b, gas_v_b), arr(gas_t_d, gas_v_d),
    split(gas_start2), split(gas_b2), split(gas_misc), split(gas_low),
    split(gas_out_c), split(gas_d2), split(gas_out_d), split(gas_tail),
    split(gas_out_e), split(gas_spread_e), split(gas_end),
    arr(gas_t_c, gas_v_c1), arr(gas_t_c_b, gas_v_c2), arr(gas_t_c, gas_v_c3),
    arr(gas_t_c_b, gas_v_c4), arr(gas_t_c, gas_v_c5),
    arr(gas_t_e, gas_v_e1), arr(gas_t_e_b, gas_v_e2), arr(gas_t_e, gas_v_e3),
    arr(gas_t_e_b, gas_v_e4), arr(gas_t_e, gas_v_e5))

fig = plt.figure(figsize=(9.24, 6.18), dpi=100)
ax = fig.add_axes([0.0942, 0.1214, 0.8106, 0.7184])
ax2 = ax.twinx()

ax.plot(air_t, air_v, ls='none', marker='D', ms=2.2, mec='#000080', mfc='white',
        mew=1.3, clip_on=False)
ax2.plot(gas_t, gas_v, ls='none', marker='s', ms=2.7, mec='#ff0000', mfc='white',
         mew=1.5, clip_on=False)

# axes
ax.set_xlim(0, 450)
ax.set_ylim(0, 250)
ax2.set_ylim(0, 8000)
ax.set_xticks(np.arange(0, 451, 50))
ax.set_yticks(np.arange(0, 251, 50))
ax2.set_yticks(np.arange(0, 8001, 1000))
ax.set_axisbelow(True)
ax.yaxis.grid(True, color='#444444', lw=0.9)

for a in (ax, ax2):
    for s in a.spines.values():
        s.set_linewidth(1.0)
        s.set_color('black')
ax.tick_params(axis='y', direction='out', length=4.3, width=1, pad=8, labelsize=14)
ax.tick_params(axis='x', direction='out', length=3.6, width=1, pad=11, labelsize=14)
ax2.tick_params(axis='y', direction='inout', length=7, width=1, pad=8.5, labelsize=14)

ax.set_xlabel('Time (h)', fontsize=13.5, fontweight='bold')
ax.xaxis.set_label_coords(0.5, -0.14)
ax.xaxis.label.set_va('center')
ax.set_ylabel('Air Flow (sccm)', fontsize=13.5, fontweight='bold')
ax.yaxis.set_label_coords(-0.092, 0.5)
ax.yaxis.label.set_va('center')
ax2.set_ylabel('Process Gas Flow (sccm)', fontsize=13.5, fontweight='bold', rotation=90)
ax2.yaxis.set_label_coords(1.095, 0.5)
ax2.yaxis.label.set_va('center')

fig.text(0.507, 0.951, 'Air and Process Gas Flow Rates\n'
         'Denver City Field Test - Catalytic SO2 Production',
         ha='center', va='center', fontsize=14.2, fontweight='bold', linespacing=1.34)

# arrows pointing to the axis each series belongs to
ax2.annotate('', xy=(0.008, 0.376), xytext=(0.064, 0.376),
             xycoords='axes fraction', textcoords='axes fraction',
             arrowprops=dict(arrowstyle='simple,head_length=13,head_width=18,tail_width=8.6',
                             mutation_scale=1, fc='#333333', ec='black', lw=0.8,
                             shrinkA=0, shrinkB=0), zorder=10)
ax2.annotate('', xy=(0.9693, 0.8378), xytext=(0.8745, 0.8378),
             xycoords='axes fraction', textcoords='axes fraction',
             arrowprops=dict(arrowstyle='simple,head_length=22,head_width=19,tail_width=8.6',
                             mutation_scale=1, fc='#333333', ec='black', lw=0.8,
                             shrinkA=0, shrinkB=0), zorder=10)

fig.savefig('out.png', dpi=100)
